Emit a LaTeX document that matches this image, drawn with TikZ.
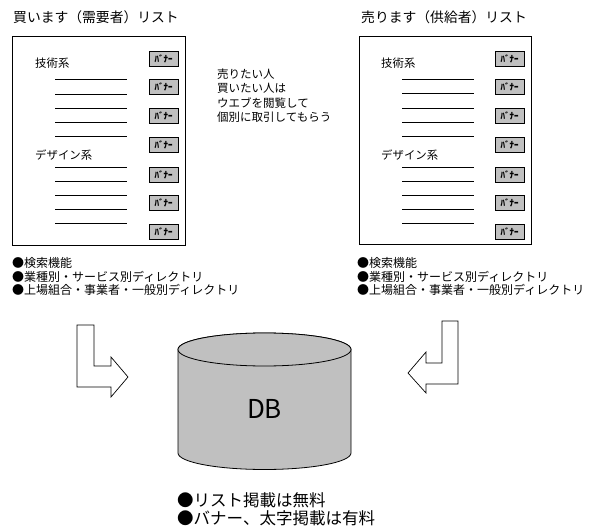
\documentclass[tikz,border=0pt]{standalone}
\usepackage{fontspec}
\setmainfont{Noto Sans CJK JP}
\definecolor{bgray}{HTML}{C0C0C0}
\newcommand{\fs}[1]{\fontsize{#1}{#1}\selectfont}
\tikzset{
  txt/.style={anchor=west, inner sep=0pt, text=black},
  title/.style={txt, font=\fs{13.8}},
  cat/.style={txt, font=\fs{11.4}},
  bul/.style={txt, font=\fs{12}},
  note/.style={txt, font=\fs{11.5}},
  panel/.style={draw, line width=1pt},
  banner/.style={draw, line width=0.9pt, fill=bgray, minimum width=29pt, minimum height=15pt, inner sep=0pt, font=\fs{9}\bfseries},
  listline/.style={line width=1pt},
  bigarrow/.style={draw, line width=0.7pt, fill=white, line join=miter},
}
\begin{document}
\begin{tikzpicture}[x=1pt,y=1pt]
\useasboundingbox (0,0) rectangle (595,-532);

% titles
\node[title] (t1) at (13,-17) {買います（需要者）リスト};
\node[title] (t2) at (361,-17) {売ります（供給者）リスト};

% panels
\draw[panel] (12,-37) rectangle (185,-246);
\draw[panel] (359,-37) rectangle (531,-245);

% category labels
\node[cat] (l1) at (35,-63) {技術系};
\node[cat] (l2) at (35,-155) {デザイン系};
\node[cat] (r1) at (381,-63) {技術系};
\node[cat] (r2) at (381,-155) {デザイン系};

% list lines
\foreach \y in {80,94.5,109,123,137,168,182,196,210,224}{
  \draw[listline] (55,-\y) -- (127,-\y);
  \draw[listline] (402,-\y+0.5) -- (474,-\y+0.5);
}

% banners
\foreach \y [count=\i] in {58.5,87,116,145,174.5,203,231.5}{
  \node[banner] (bl\i) at (163.5,-\y) {ﾊﾞﾅｰ};
  \node[banner] (br\i) at (509.5,-\y) {ﾊﾞﾅｰ};
}

% middle note
\node[note] (n1) at (217,-74) {売りたい人};
\node[note] (n2) at (217,-88.5) {買いたい人は};
\node[note] (n3) at (217,-103) {ウエブを閲覧して};
\node[note] (n4) at (217,-117.5) {個別に取引してもらう};

% bullets under panels
\node[bul] (b1) at (12,-263) {●検索機能};
\node[bul] (b2) at (12,-276.5) {●業種別・サービス別ディレクトリ};
\node[bul] (b3) at (12,-290) {●上場組合・事業者・一般別ディレクトリ};
\node[bul] (c1) at (357,-263) {●検索機能};
\node[bul] (c2) at (357,-276.5) {●業種別・サービス別ディレクトリ};
\node[bul] (c3) at (357,-290) {●上場組合・事業者・一般別ディレクトリ};

% bent arrows
\draw[bigarrow] (77,-325) -- (94,-325) -- (94,-366) -- (111,-366) -- (111,-357)
  -- (128,-377) -- (111,-397) -- (111,-387) -- (77,-387) -- cycle;
\draw[bigarrow] (458,-321) -- (442,-321) -- (442,-363) -- (426,-363) -- (426,-352)
  -- (408,-373) -- (426,-393) -- (426,-384) -- (458,-384) -- cycle;

% database cylinder
\draw[line width=0.8pt, fill=bgray] (178,-349.5) -- (178,-453)
  arc[start angle=180, end angle=360, x radius=86.5, y radius=16.5]
  -- (351,-349.5)
  arc[start angle=0, end angle=180, x radius=86.5, y radius=16.5] -- cycle;
\draw[line width=0.8pt, fill=bgray] (264.5,-349.5) ellipse[x radius=86.5, y radius=16.5];
\node[inner sep=0pt, font=\fs{26}] (db) at (264.5,-409) {DB};

% bottom notes
\node[txt, font=\fs{16.5}] (d1) at (177,-500) {●リスト掲載は無料};
\node[txt, font=\fs{16.5}] (d2) at (177,-518) {●バナー、太字掲載は有料};
\end{tikzpicture}
\end{document}
